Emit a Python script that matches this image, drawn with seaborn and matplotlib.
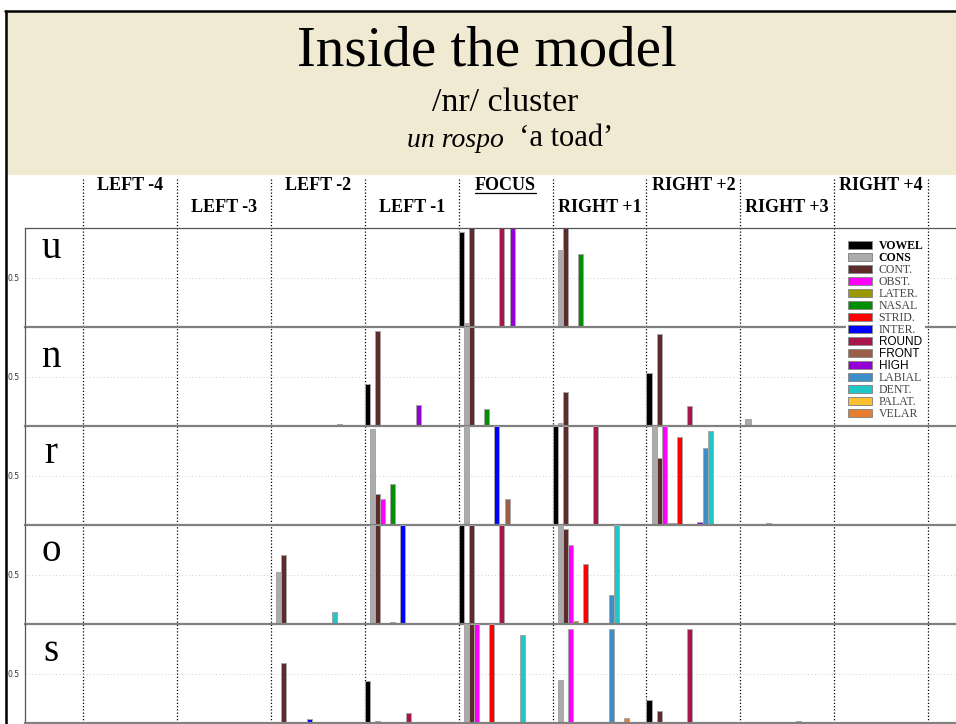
import numpy as np
import pandas as pd
import matplotlib.pyplot as plt
import seaborn as sns
from matplotlib.patches import Rectangle, Patch
from matplotlib.lines import Line2D
from matplotlib.transforms import blended_transform_factory

features = ['VOWEL', 'CONS', 'CONT.', 'OBST.', 'LATER.', 'NASAL', 'STRID.',
            'INTER.', 'ROUND', 'FRONT', 'HIGH', 'LABIAL', 'DENT.', 'PALAT.', 'VELAR']
colors = ['#000000', '#ababab', '#5e2b2b', '#ff00ff', '#999900', '#008f00', '#ff0000',
          '#0000ff', '#a8144b', '#9b5f48', '#9400d3', '#3a8fc8', '#1fc8c8', '#fcc02f', '#e57f2f']
positions = ['LEFT -4', 'LEFT -3', 'LEFT -2', 'LEFT -1', 'FOCUS',
             'RIGHT +1', 'RIGHT +2', 'RIGHT +3', 'RIGHT +4']
segments = ['u', 'n', 'r', 'o', 's']

# activations: one row per position, one column per feature (order as above)
z = [0] * 15
u_act = [
    [0, 0, .01, 0, 0, 0, 0, 0, 0, 0, 0, 0, 0, 0, 0],
    z, z, z,
    [.96, .04, 1, 0, 0, 0, 0, 0, 1, 0, 1, 0, 0, .01, 0],
    [0, .78, 1, 0, 0, .74, 0, 0, 0, 0, 0, 0, 0, 0, 0],
    z, z, z,
]
n_act = [
    z, z,
    [0, 0, 0, 0, 0, 0, 0, 0, 0, 0, 0, 0, 0, .02, 0],
    [.42, 0, .96, 0, 0, 0, 0, 0, .01, 0, .21, 0, 0, 0, 0],
    [.01, 1, 1, 0, 0, .17, 0, 0, 0, 0, 0, 0, 0, 0, 0],
    [0, .03, .34, 0, .01, 0, 0, 0, 0, 0, 0, 0, 0, 0, 0],
    [.54, 0, .93, 0, 0, 0, 0, 0, .20, 0, 0, 0, 0, 0, 0],
    [0, .07, 0, .01, 0, 0, 0, 0, .01, 0, 0, .01, 0, 0, 0],
    z,
]
r_act = [
    z, z, z,
    [0, .97, .31, .26, 0, .41, 0, 0, 0, 0, 0, 0, .01, 0, 0],
    [.01, 1, 0, 0, 0, 0, 0, 1, 0, .26, 0, 0, 0, 0, 0],
    [1, 0, 1, 0, 0, 0, 0, 0, 1, 0, 0, 0, 0, 0, 0],
    [0, 1, .68, 1, .02, .02, .89, 0, 0, 0, .03, .78, .95, 0, .01],
    [0, .01, 0, 0, 0, .02, 0, 0, 0, 0, 0, .01, 0, 0, 0],
    z,
]
o_act = [
    z, z,
    [0, .53, .70, 0, 0, 0, 0, 0, 0, 0, 0, 0, .12, 0, 0],
    [0, 1, 1, 0, 0, .02, 0, 1, 0, 0, 0, 0, 0, 0, 0],
    [1, 0, 1, 0, 0, 0, 0, 0, 1, 0, 0, 0, 0, 0, 0],
    [0, 1, .96, .80, .03, .01, .61, 0, 0, 0, 0, .29, 1, 0, 0],
    z,
    [0, 0, 0, 0, 0, 0, 0, 0, 0, 0, 0, .01, 0, 0, 0],
    z,
]
s_act = [
    z,
    [.01, .01, 0, 0, 0, 0, 0, 0, 0, 0, 0, 0, 0, 0, 0],
    [0, .01, .61, 0, 0, .01, 0, .04, 0, 0, 0, 0, 0, 0, 0],
    [.42, 0, .02, 0, 0, 0, 0, 0, .10, 0, 0, 0, 0, 0, 0],
    [0, 1, 1, 1, 0, 0, 1, 0, 0, 0, 0, 0, .89, 0, 0],
    [0, .43, 0, .95, 0, 0, 0, 0, 0, 0, 0, .95, 0, 0, .05],
    [.23, 0, .12, 0, 0, 0, 0, 0, .95, 0, 0, 0, 0, 0, 0],
    [0, .01, .01, 0, 0, .01, 0, 0, 0, 0, 0, .02, 0, 0, 0],
    [0, 0, 0, .01, 0, 0, 0, 0, 0, 0, 0, 0, 0, 0, 0],
]
activations = [u_act, n_act, r_act, o_act, s_act]

sns.set_style('white')
plt.rcParams['font.family'] = ['Liberation Serif', 'DejaVu Serif']
plt.rcParams['text.color'] = 'black'
plt.rcParams['ytick.color'] = '#333333'

W, H = 956, 724
fig = plt.figure(figsize=(W / 100, H / 100), dpi=100)


def box(left, top, right, bottom):
    return [left / W, 1 - bottom / H, (right - left) / W, (bottom - top) / H]


col_px, first_px, step_px = 93.9, 83, 5.1
bw = step_px / col_px
xlim = ((25 - first_px) / col_px, (W - first_px) / col_px)

# slide header
fig.patches.append(Rectangle((7 / W, 1 - 175 / H), 1, 164 / H, transform=fig.transFigure,
                             facecolor='#f1ead2', edgecolor='none', zorder=-2))
fig.add_artist(Line2D([5 / W, 1], [1 - 11 / H] * 2, color='black', lw=1.8))
fig.add_artist(Line2D([6 / W] * 2, [0, 1 - 11 / H], color='black', lw=1.8))
fig.text(487 / W, 1 - 65 / H, 'Inside the model', ha='center', va='baseline', fontsize=41)
fig.text(505 / W, 1 - 111 / H, '/nr/ cluster', ha='center', va='baseline', fontsize=24.5)
t_it = fig.text(407 / W, 1 - 147 / H, 'un rospo', style='italic', va='baseline', fontsize=20)

# overlay with dotted separators and column headers
ov = fig.add_axes(box(25, 178, W, 723))
ov.set_xlim(xlim)
ov.set_ylim(0, 1)
ov.axis('off')
for k in range(len(positions) + 1):
    ov.axvline(k, color='black', lw=0.9, ls=(0, (1, 1.6)))
tr = blended_transform_factory(ov.transData, fig.transFigure)
head_texts = []
for k, lab in enumerate(positions):
    y = 1 - (186 if k % 2 == 0 else 208) / H
    head_texts.append(ov.text(k + 0.5, y, lab, transform=tr, ha='center', va='center',
                              fontsize=13, fontweight='bold'))
ov.annotate('  \u2018a toad\u2019', xy=(1, 0), xycoords=t_it, va='bottom', ha='left',
            fontsize=22, annotation_clip=False)

label_off = [30, 40, 37, 36, 37]
for r, (seg, act) in enumerate(zip(segments, activations)):
    top = 228 + r * 99
    ax = fig.add_axes(box(25, top, W, top + 99))
    ax.patch.set_alpha(0)
    df = pd.DataFrame([
        {'pos': k + (i + 0.5) * bw, 'value': v, 'feature': features[i]}
        for k, vals in enumerate(act) for i, v in enumerate(vals)
    ])
    sns.barplot(data=df, x='pos', y='value', hue='feature', hue_order=features,
                palette=colors, native_scale=True, dodge=False, width=1, saturation=1,
                errorbar=None, legend=False, edgecolor='#a6a6a6', linewidth=0.7, ax=ax)
    ax.set_xlim(xlim)
    ax.set_ylim(0, 1)
    ax.set_xticks([])
    ax.set_yticks([0.5])
    ax.set_yticklabels(['0.5'], fontfamily='DejaVu Sans')
    ax.tick_params(axis='y', length=3, width=0.6, color='#666666', labelsize=5.5, pad=0.6)
    ax.set_xlabel('')
    ax.set_ylabel('')
    ax.axhline(0.5, color='#cfcfcf', lw=0.7, ls=(0, (1, 2.5)), zorder=0)
    for side in ['top', 'bottom', 'left']:
        ax.spines[side].set_visible(True)
    ax.spines['right'].set_visible(False)
    ax.spines['bottom'].set_color('#808080')
    ax.spines['bottom'].set_linewidth(1.6)
    ax.spines['left'].set_color('#555555')
    ax.spines['left'].set_linewidth(0.9)
    ax.spines['top'].set_color('#555555')
    ax.spines['top'].set_linewidth(0.9)
    if r > 0:
        ax.spines['top'].set_visible(False)
    ax.text((51 - 25) / (W - 25), 1 - label_off[r] / 99, seg, transform=ax.transAxes,
            ha='center', va='baseline', fontsize=28)

handles = [Patch(facecolor=c, edgecolor='#8a8a8a', lw=0.7) for c in colors]
leg = fig.legend(handles, features, loc='upper left', bbox_to_anchor=(846 / W, 1 - 238 / H),
                 frameon=True, fancybox=False, prop={'family': 'Liberation Serif', 'size': 8.5},
                 handlelength=2.07, handleheight=0.68, labelspacing=0.0, handletextpad=0.55,
                 borderpad=0.15, borderaxespad=0)
leg.get_frame().set_facecolor('white')
leg.get_frame().set_edgecolor('none')
leg.get_frame().set_alpha(1)
for t in leg.get_texts():
    s = t.get_text()
    if s in ('VOWEL', 'CONS'):
        t.set_fontweight('bold')
    elif s in ('ROUND', 'FRONT', 'HIGH'):
        t.set_fontfamily('Liberation Sans')
    else:
        t.set_color('#444444')

# underline FOCUS
fig.canvas.draw()
bb = head_texts[4].get_window_extent().transformed(fig.transFigure.inverted())
fig.add_artist(Line2D([bb.x0, bb.x1], [bb.y0 + 2 / H] * 2, color='black', lw=0.9))

fig.savefig('out.png', dpi=100)
